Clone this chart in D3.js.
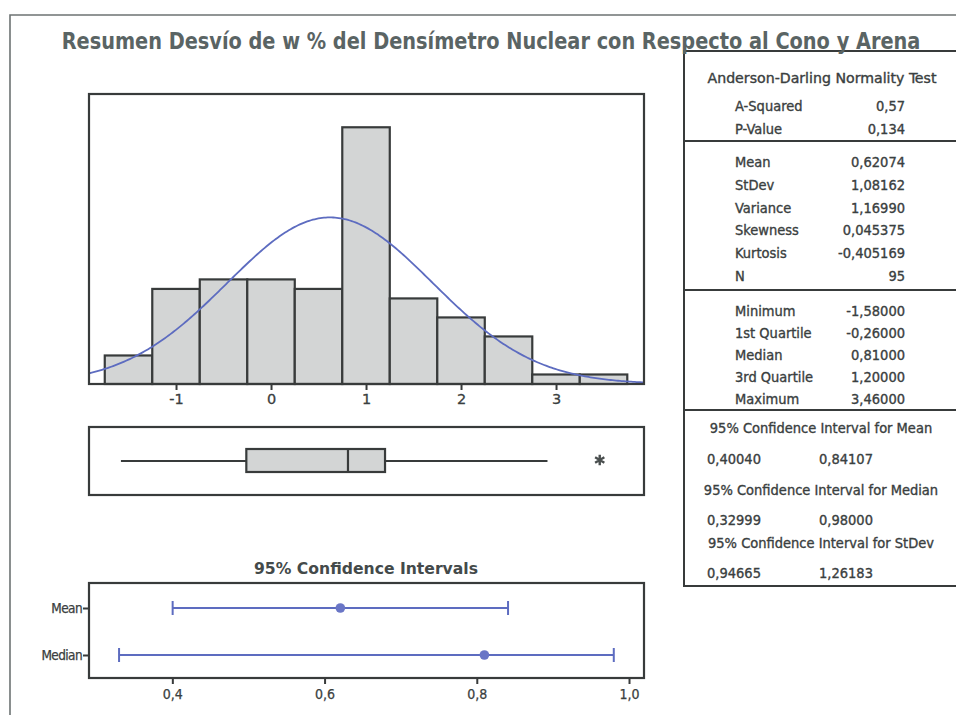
<!DOCTYPE html>
<html><head><meta charset="utf-8">
<script src="https://cdn.jsdelivr.net/npm/d3@7"></script>
<style>
body{margin:0;background:#fff}
svg{display:block}
text{font-family:"DejaVu Sans Condensed","DejaVu Sans",sans-serif}
</style>
</head><body><svg id="c" width="956" height="715"></svg>
<script>
// ---------- data ----------
const titleText = "Resumen Desvío de w % del Densímetro Nuclear con Respecto al Cono y Arena";
const binMids   = [-1.5, -1, -0.5, 0, 0.5, 1, 1.5, 2, 2.5, 3, 3.5];
const binCounts = [3, 10, 11, 11, 10, 27, 9, 7, 5, 1, 1];
const binWidth  = 0.5;
const histTicks = [-1, 0, 1, 2, 3];
const fitMean = 0.62074, fitStDev = 1.08162, sampleN = 95;

const boxLabels = ["whiskerLow", "q1", "median", "q3", "whiskerHigh"];
const boxValues = [-1.58, -0.26, 0.81, 1.20, 2.91];
const boxOutliers = [3.46];

const ciCategories = ["Mean", "Median"];
const ciCenter = [0.62074, 0.81];
const ciLow    = [0.40040, 0.32999];
const ciHigh   = [0.84107, 0.98000];
const ciTicks  = [0.4, 0.6, 0.8, 1.0];

const adLabels = ["A-Squared", "P-Value"];
const adValues = ["0,57", "0,134"];
const momentLabels = ["Mean", "StDev", "Variance", "Skewness", "Kurtosis", "N"];
const momentValues = ["0,62074", "1,08162", "1,16990", "0,045375", "-0,405169", "95"];
const quantLabels = ["Minimum", "1st Quartile", "Median", "3rd Quartile", "Maximum"];
const quantValues = ["-1,58000", "-0,26000", "0,81000", "1,20000", "3,46000"];
const ciTableTitles = ["95% Confidence Interval for Mean", "95% Confidence Interval for Median", "95% Confidence Interval for StDev"];
const ciTableLow  = ["0,40040", "0,32999", "0,94665"];
const ciTableHigh = ["0,84107", "0,98000", "1,26183"];

// ---------- drawing ----------
const svg = d3.select("#c");
const frameCol = "#383b3b", barFill = "#d3d5d5", blue = "#5d6cc0", txt = "#3a4040";

// outer frame
svg.append("path").attr("d", "M10,715V15H956").attr("fill", "none").attr("stroke", "#6d7373").attr("stroke-width", 1.6);

// ---- histogram ----
const H = {l: 89, r: 644, t: 94, b: 384};
const hx = d3.scaleLinear().domain([-1.916, 3.926]).range([H.l, H.r]);
const hy = d3.scaleLinear().domain([0, 30.5]).range([H.b, H.t]);

svg.append("clipPath").attr("id", "hclip").append("rect")
  .attr("x", H.l).attr("y", H.t).attr("width", H.r - H.l).attr("height", H.b - H.t);

svg.append("g").selectAll("rect").data(binMids).join("rect")
  .attr("x", d => hx(d - binWidth / 2))
  .attr("width", d => hx(d + binWidth / 2) - hx(d - binWidth / 2))
  .attr("y", (d, i) => hy(binCounts[i]))
  .attr("height", (d, i) => hy(0) - hy(binCounts[i]))
  .attr("fill", barFill).attr("stroke", frameCol).attr("stroke-width", 2.2);

const xs = d3.range(0, 301).map(i => hx.domain()[0] + i * (hx.domain()[1] - hx.domain()[0]) / 300);
const pdf = x => Math.exp(-0.5 * ((x - fitMean) / fitStDev) ** 2) / (fitStDev * Math.sqrt(2 * Math.PI));
svg.append("path").datum(xs).attr("clip-path", "url(#hclip)")
  .attr("d", d3.line().x(d => hx(d)).y(d => hy(sampleN * binWidth * pdf(d))))
  .attr("fill", "none").attr("stroke", blue).attr("stroke-width", 1.8);

svg.append("rect").attr("x", H.l).attr("y", H.t).attr("width", H.r - H.l).attr("height", H.b - H.t)
  .attr("fill", "none").attr("stroke", frameCol).attr("stroke-width", 2.2);

const hax = svg.append("g").attr("transform", `translate(0,${H.b})`)
  .call(d3.axisBottom(hx).tickValues(histTicks).tickSize(6).tickPadding(4).tickFormat(d => String(d)));
hax.select(".domain").remove();
hax.selectAll("line").attr("stroke", frameCol).attr("stroke-width", 2);
hax.selectAll("text").attr("fill", txt).attr("stroke", txt).attr("stroke-width", 0.3)
  .style("font-size", "14.5px").style("font-family", '"DejaVu Sans",sans-serif');

// ---- boxplot ----
const B = {t: 427, b: 495};
const bMid = 461, bTop = 449, bBot = 472;
svg.append("rect").attr("x", H.l).attr("y", B.t).attr("width", H.r - H.l).attr("height", B.b - B.t)
  .attr("fill", "none").attr("stroke", frameCol).attr("stroke-width", 2.2);
svg.append("line").attr("x1", hx(boxValues[0])).attr("x2", hx(boxValues[1])).attr("y1", bMid).attr("y2", bMid)
  .attr("stroke", frameCol).attr("stroke-width", 2.2);
svg.append("line").attr("x1", hx(boxValues[3])).attr("x2", hx(boxValues[4])).attr("y1", bMid).attr("y2", bMid)
  .attr("stroke", frameCol).attr("stroke-width", 2.2);
svg.append("rect").attr("x", hx(boxValues[1])).attr("width", hx(boxValues[3]) - hx(boxValues[1]))
  .attr("y", bTop).attr("height", bBot - bTop)
  .attr("fill", barFill).attr("stroke", frameCol).attr("stroke-width", 2.2);
svg.append("line").attr("x1", hx(boxValues[2])).attr("x2", hx(boxValues[2])).attr("y1", bTop).attr("y2", bBot)
  .attr("stroke", frameCol).attr("stroke-width", 2.2);
svg.append("g").selectAll("path").data(boxOutliers).join("path")
  .attr("transform", d => `translate(${hx(d)},${bMid - 1})`)
  .attr("d", d3.symbol(d3.symbolAsterisk, 80))
  .attr("fill", "none").attr("stroke", "#4a4f4f").attr("stroke-width", 2.4);

// ---- confidence intervals ----
const C = {t: 583, b: 678};
const cx = d3.scaleLinear().domain([0.2905, 1.0197]).range([H.l, H.r]);
const cy = d3.scalePoint().domain(ciCategories).range([608, 655]);

svg.append("text").attr("x", 366).attr("y", 574).attr("text-anchor", "middle")
  .style("font-size", "16px").attr("font-weight", "bold").attr("fill", "#444a4a")
  .attr("textLength", 224).attr("lengthAdjust", "spacingAndGlyphs")
  .style("font-family", '"DejaVu Sans",sans-serif')
  .text("95% Confidence Intervals");

svg.append("rect").attr("x", H.l).attr("y", C.t).attr("width", H.r - H.l).attr("height", C.b - C.t)
  .attr("fill", "none").attr("stroke", frameCol).attr("stroke-width", 2.2);

const ci = svg.append("g").selectAll("g").data(ciCategories).join("g");
ci.append("line").attr("x1", (d, i) => cx(ciLow[i])).attr("x2", (d, i) => cx(ciHigh[i]))
  .attr("y1", d => cy(d)).attr("y2", d => cy(d)).attr("stroke", blue).attr("stroke-width", 1.8);
ci.append("line").attr("x1", (d, i) => cx(ciLow[i])).attr("x2", (d, i) => cx(ciLow[i]))
  .attr("y1", d => cy(d) - 7).attr("y2", d => cy(d) + 7).attr("stroke", blue).attr("stroke-width", 2);
ci.append("line").attr("x1", (d, i) => cx(ciHigh[i])).attr("x2", (d, i) => cx(ciHigh[i]))
  .attr("y1", d => cy(d) - 7).attr("y2", d => cy(d) + 7).attr("stroke", blue).attr("stroke-width", 2);
ci.append("circle").attr("cx", (d, i) => cx(ciCenter[i])).attr("cy", d => cy(d)).attr("r", 4.8)
  .attr("fill", "#6a76c6");

const cax = svg.append("g").attr("transform", `translate(0,${C.b})`)
  .call(d3.axisBottom(cx).tickValues(ciTicks).tickSize(6).tickPadding(5)
    .tickFormat(d => d3.format(".1f")(d).replace(".", ",")));
cax.select(".domain").remove();
cax.selectAll("line").attr("stroke", frameCol).attr("stroke-width", 2);
cax.selectAll("text").attr("fill", txt).attr("stroke", txt).attr("stroke-width", 0.25).style("font-size", "14px");

const cay = svg.append("g").attr("transform", `translate(${H.l},0)`)
  .call(d3.axisLeft(cy).tickSize(6).tickPadding(1));
cay.select(".domain").remove();
cay.selectAll("line").attr("stroke", frameCol).attr("stroke-width", 2);
cay.selectAll("text").attr("fill", txt).attr("stroke", txt).attr("stroke-width", 0.25)
  .style("font-size", "13.5px").attr("letter-spacing", -0.6);

// ---- statistics table ----
const T = {l: 684, t: 51, b: 586};
const tg = svg.append("g");
tg.append("path").attr("d", `M957,${T.t}H${T.l}V${T.b}H957`).attr("fill", "none").attr("stroke", frameCol).attr("stroke-width", 2);
[141, 290, 410].forEach(y => tg.append("line").attr("x1", T.l).attr("x2", 956).attr("y1", y).attr("y2", y)
  .attr("stroke", frameCol).attr("stroke-width", 2));

const labX = 735, valX = 905;
function tt(sel) {
  return sel.style("font-size", "14.5px").attr("fill", txt).attr("stroke", txt).attr("stroke-width", 0.35);
}
tt(tg.append("text").attr("x", 822).attr("y", 83).attr("text-anchor", "middle")
  .attr("textLength", 229).attr("lengthAdjust", "spacingAndGlyphs").text("Anderson-Darling Normality Test"));

function rows(labels, values, y0, dy) {
  labels.forEach((l, i) => {
    tt(tg.append("text").attr("x", labX).attr("y", y0 + i * dy).text(l));
    tt(tg.append("text").attr("x", valX).attr("y", y0 + i * dy).attr("text-anchor", "end").text(values[i]));
  });
}
rows(adLabels, adValues, 111, 22.5);
rows(momentLabels, momentValues, 167, 22.8);
rows(quantLabels, quantValues, 316, 22);

const ciHeadY = [433, 495, 548], ciValY = [464, 525, 578];
ciTableTitles.forEach((t, i) => {
  tt(tg.append("text").attr("x", 821).attr("y", ciHeadY[i]).attr("text-anchor", "middle").text(t));
  tt(tg.append("text").attr("x", 734).attr("y", ciValY[i]).attr("text-anchor", "middle").text(ciTableLow[i]));
  tt(tg.append("text").attr("x", 846).attr("y", ciValY[i]).attr("text-anchor", "middle").text(ciTableHigh[i]));
});

// title: sized so its natural width is the target width, then stretched vertically
const titleW = 859, titleGlyph = 23;
const tgT = svg.append("g");
const title = tgT.append("text").attr("x", 0).attr("y", 0).attr("text-anchor", "middle")
  .style("font-size", titleGlyph + "px").attr("font-weight", "bold").attr("fill", "#5a6464").text(titleText);
const natural = title.node().getComputedTextLength();
const fsT = titleGlyph * titleW / natural;
title.style("font-size", fsT + "px");
tgT.attr("transform", `translate(491,49) scale(1,${titleGlyph / fsT})`);
</script>
</body></html>
